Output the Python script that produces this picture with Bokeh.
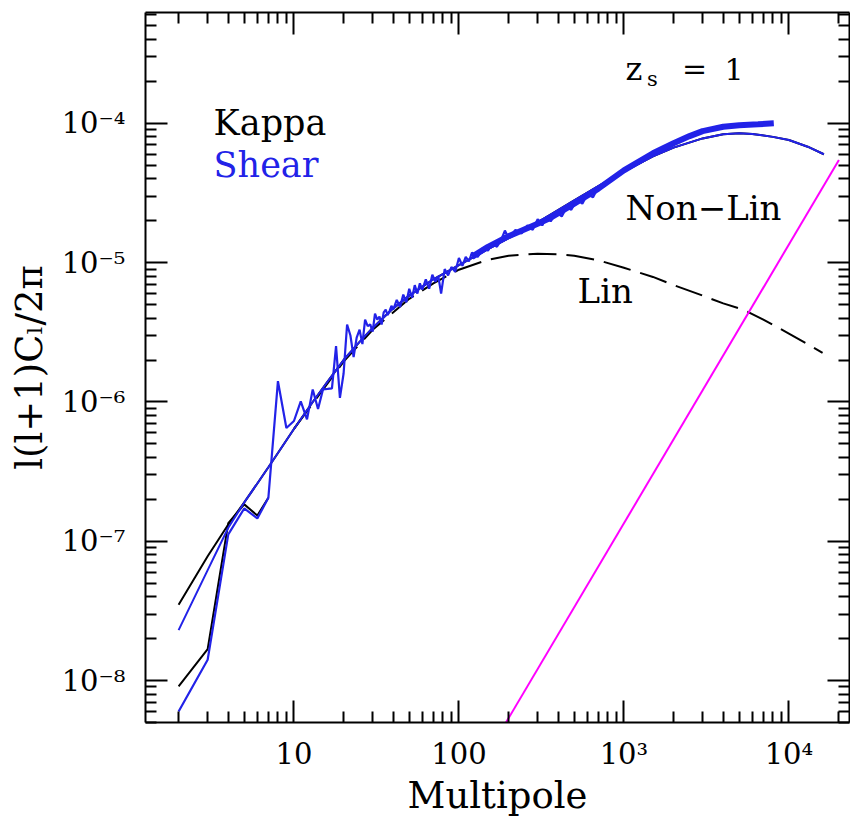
from bokeh.plotting import figure
from bokeh.models import LogAxis, FixedTicker, Label, Range1d
from bokeh.embed import file_html
from bokeh.resources import INLINE

# ---------------- data ----------------
x_major = [10, 100, 1000, 10000]
x_major_labels = ["10", "100", "10³", "10⁴"]
y_major = [1e-8, 1e-7, 1e-6, 1e-5, 1e-4]
y_major_labels = ["10⁻⁸", "10⁻⁷", "10⁻⁶", "10⁻⁵", "10⁻⁴"]

# non-linear theory (shear, blue thin)
nl_l = [2, 3, 4, 5, 6, 7, 8, 10, 13, 16, 20, 25, 30, 40, 50, 70, 100, 150, 200, 300,
        500, 700, 1000, 1500, 2000, 3000, 4000, 5000, 6000, 8000, 10000, 13000, 16300]
nl_shear = [2.3e-8, 6.2e-8, 1.25e-7, 1.9e-7, 2.6e-7, 3.4e-7, 4.3e-7, 6.4e-7, 1.0e-6, 1.4e-6,
            2.0e-6, 2.7e-6, 3.4e-6, 4.7e-6, 5.8e-6, 7.6e-6, 9.6e-6, 1.25e-5, 1.5e-5, 1.95e-5,
            2.8e-5, 3.55e-5, 4.5e-5, 5.8e-5, 6.7e-5, 7.8e-5, 8.35e-5, 8.5e-5, 8.4e-5, 8.0e-5,
            7.6e-5, 6.8e-5, 6.0e-5]
# non-linear theory (kappa, black thin)
nl_kappa = [3.5e-8, 7.8e-8, 1.32e-7, 1.9e-7, 2.6e-7, 3.4e-7, 4.3e-7, 6.4e-7, 1.0e-6, 1.4e-6,
            2.0e-6, 2.7e-6, 3.4e-6, 4.7e-6, 5.8e-6, 7.6e-6, 9.6e-6, 1.25e-5, 1.5e-5, 1.95e-5,
            2.8e-5, 3.55e-5, 4.5e-5, 5.8e-5, 6.7e-5, 7.8e-5, 8.35e-5, 8.5e-5, 8.4e-5, 8.0e-5,
            7.6e-5, 6.8e-5, 6.0e-5]

# linear theory (black dashed)
lin_l = [10, 20, 30, 50, 70, 100, 150, 200, 300, 400, 500, 700, 1000, 1500, 2000, 3000,
         4000, 5300, 7000, 10000, 13000, 16000]
lin_v = [6.4e-7, 1.95e-6, 3.3e-6, 5.5e-6, 7.1e-6, 8.9e-6, 1.05e-5, 1.12e-5, 1.16e-5, 1.15e-5,
         1.12e-5, 1.04e-5, 9.2e-6, 7.9e-6, 6.9e-6, 5.8e-6, 5.1e-6, 4.6e-6, 3.9e-6, 3.1e-6,
         2.6e-6, 2.25e-6]

# simulation, kappa (black, low multipoles)
simk_l = [2, 3, 4, 5, 6, 7]
simk_v = [9.1e-9, 1.68e-8, 1.35e-7, 1.84e-7, 1.53e-7, 2.05e-7]

# simulation, shear (blue, noisy)
sim_l = [2, 3, 4, 5, 6, 7, 8, 9, 10, 11, 12, 13, 14, 15, 16, 17, 18, 19, 20, 21,
         22, 23, 24, 25, 26, 27, 28, 29, 30, 31, 32, 33, 34, 35, 36, 37, 38, 39, 40,
         42, 44, 46, 48, 50, 52, 54, 56, 58, 60,
         63, 66, 69, 72, 75, 78,
         82, 86, 90, 95, 100,
         105, 110, 115, 120,
         130, 140, 150, 160, 170, 180, 190, 200,
         220, 240, 260, 280, 300, 320, 340, 360, 390, 420, 450, 480,
         520, 560, 600, 650, 700]
sim_v = [6.0e-9, 1.41e-8, 1.12e-7, 1.72e-7, 1.46e-7, 2.05e-7, 1.41e-6, 6.5e-7, 7.3e-7, 1.01e-6,
         7.5e-7, 1.23e-6, 8.9e-7, 1.23e-6, 1.24e-6, 1.25e-6, 2.52e-6, 1.07e-6, 1.6e-6, 3.6e-6,
         3.0e-6, 2.1e-6, 2.9e-6, 3.3e-6, 2.6e-6, 3.9e-6, 3.5e-6, 3.6e-6, 3.2e-6, 4.3e-6,
         3.9e-6, 4.1e-6, 3.6e-6, 4.4e-6, 4.6e-6, 4.2e-6, 4.5e-6, 4.9e-6, 4.6e-6,
         5.4e-6, 4.8e-6, 5.9e-6, 5.2e-6, 6.5e-6, 5.6e-6, 6.9e-6, 6.0e-6, 7.1e-6, 6.4e-6,
         7.6e-6, 6.5e-6, 8.2e-6, 7.3e-6, 8.0e-6, 6.0e-6,
         9.0e-6, 8.1e-6, 9.3e-6, 8.6e-6, 1.08e-5,
         9.5e-6, 1.1e-5, 1.02e-5, 1.18e-5,
         1.1e-5, 1.28e-5, 1.22e-5, 1.38e-5, 1.3e-5, 1.45e-5, 1.7e-5, 1.5e-5,
         1.72e-5, 1.62e-5, 1.85e-5, 1.72e-5, 2.05e-5, 1.85e-5, 2.15e-5, 1.98e-5,
         2.3e-5, 2.15e-5, 2.5e-5, 2.4e-5,
         2.85e-5, 2.65e-5, 3.1e-5, 2.95e-5, 3.5e-5]
# simulation, shear: dense high-multipole band (centre of the band)
band_l = [120, 150, 200, 300, 360, 500, 700, 1000, 1500, 2000, 2500, 3000, 4000, 5000, 6500, 8100]
band_v = [1.1e-5, 1.3e-5, 1.55e-5, 1.9e-5, 2.1e-5, 2.65e-5, 3.4e-5, 4.6e-5, 6.1e-5, 7.2e-5,
          8.1e-5, 8.8e-5, 9.45e-5, 9.7e-5, 9.85e-5, 1.0e-4]

# shot noise (magenta)
noise_l = [192, 20100]
noise_v = [4.95e-9, 5.46e-5]

X_RANGE = (1.26, 23300)
Y_RANGE = (5e-9, 6.25e-4)

BLUE = "#2222e8"
MAGENTA = "#ff00ff"
SERIF = "DejaVu Serif"

# ---------------- figure ----------------
p = figure(width=850, height=819, x_axis_type="log", y_axis_type="log",
           x_range=Range1d(*X_RANGE), y_range=Range1d(*Y_RANGE),
           output_backend="svg", toolbar_location=None,
           min_border_left=145, min_border_right=1, min_border_top=12, min_border_bottom=97)
p.outline_line_color = None
p.xgrid.visible = False
p.ygrid.visible = False
p.background_fill_color = "white"
p.border_fill_color = "white"

x_minor = [m * 10.0 ** k for k in range(0, 5) for m in range(2, 10)]
y_minor = [m * 10.0 ** k for k in range(-9, -3) for m in range(2, 10)]


def style_axis(ax, ticks, minor, labels):
    ax.ticker = FixedTicker(ticks=ticks, minor_ticks=minor)
    ax.axis_line_width = 2
    ax.axis_line_color = "black"
    ax.major_tick_line_width = 2
    ax.minor_tick_line_width = 2
    ax.major_tick_in = 22
    ax.major_tick_out = 0
    ax.minor_tick_in = 11
    ax.minor_tick_out = 0
    ax.major_label_text_font = SERIF
    ax.major_label_text_font_size = "29px"
    ax.major_label_text_color = "black"
    if labels is None:
        ax.major_label_overrides = {t: "" for t in ticks}
        ax.major_label_standoff = 0
    else:
        ax.major_label_overrides = dict(zip(ticks, labels))


style_axis(p.xaxis[0], x_major, x_minor, x_major_labels)
style_axis(p.yaxis[0], y_major, y_minor, y_major_labels)
p.xaxis[0].major_label_standoff = 14
p.yaxis[0].major_label_standoff = 20

p.xaxis[0].axis_label = "Multipole"
p.yaxis[0].axis_label = "l(l+1)Cₗ/2π"
for ax in (p.xaxis[0], p.yaxis[0]):
    ax.axis_label_text_font = SERIF
    ax.axis_label_text_font_size = "37px"
    ax.axis_label_text_font_style = "normal"
    ax.axis_label_text_color = "black"
p.xaxis[0].axis_label_standoff = 0
p.yaxis[0].axis_label_standoff = 8

top = LogAxis()
right = LogAxis()
style_axis(top, x_major, x_minor, None)
style_axis(right, y_major, y_minor, None)
p.add_layout(top, "above")
p.add_layout(right, "right")

# ---------------- lines ----------------
p.line(lin_l, lin_v, line_color="black", line_width=2, line_dash="28 10")
p.line(noise_l, noise_v, line_color=MAGENTA, line_width=2)
p.line(nl_l, nl_kappa, line_color="black", line_width=2)
p.line(simk_l, simk_v, line_color="black", line_width=2)
p.line(band_l, band_v, line_color=BLUE, line_width=6)
p.line(sim_l, sim_v, line_color=BLUE, line_width=2.2)
p.line(nl_l, nl_shear, line_color=BLUE, line_width=2)

# ---------------- text ----------------
def txt(x, y, s, size, color="black"):
    p.add_layout(Label(x=x, y=y, text=s, text_font=SERIF, text_font_size=size,
                       text_color=color, text_baseline="alphabetic", text_align="left"))


txt(3.26, 1.0e-4, "Kappa", "35px")
txt(3.26, 5.05e-5, "Shear", "35px", BLUE)
txt(1023, 2.48e-5, "Non−Lin", "34px")
txt(524, 6.27e-6, "Lin", "34px")
txt(1023, 2.47e-4, "z", "32px")
txt(1380, 2.09e-4, "s", "21px")
txt(2250, 2.47e-4, "=", "30px")
txt(4070, 2.47e-4, "1", "30px")

open("out.html", "w").write(file_html(p, INLINE))
